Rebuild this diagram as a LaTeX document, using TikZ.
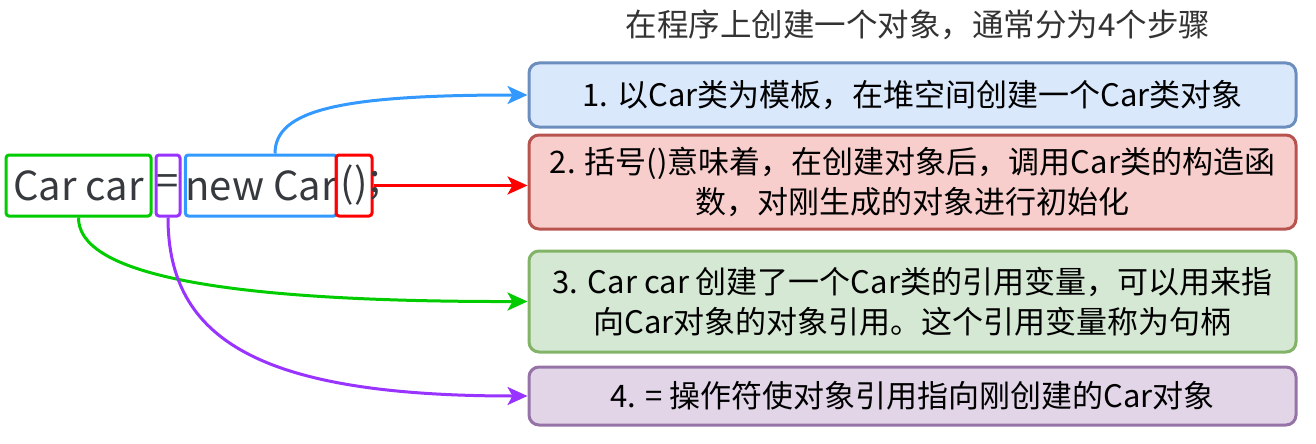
\documentclass[tikz,border=0pt]{standalone}
\usepackage{fontspec}
\setmainfont{Noto Sans CJK SC}
\usepackage{tikz}
\usetikzlibrary{arrows.meta, positioning, calc}
\usepackage{xcolor}

\definecolor{codegray}{HTML}{36393D}
\definecolor{titlegray}{HTML}{333333}
\definecolor{cgreen}{HTML}{00CC00}
\definecolor{cpurple}{HTML}{9933FF}
\definecolor{cblue}{HTML}{3399FF}
\definecolor{cred}{HTML}{FF0000}
\definecolor{bluefill}{HTML}{DAE8FC}
\definecolor{bluedraw}{HTML}{6C8EBF}
\definecolor{redfill}{HTML}{F8CECC}
\definecolor{reddraw}{HTML}{B85450}
\definecolor{greenfill}{HTML}{D5E8D4}
\definecolor{greendraw}{HTML}{82B366}
\definecolor{purplefill}{HTML}{E1D5E7}
\definecolor{purpledraw}{HTML}{9673A6}

\tikzset{
  codebox/.style={draw, line width=3pt, rounded corners=3pt, inner sep=0pt,
    minimum height=61pt, text=codegray, font=\fontsize{40}{44}\selectfont},
  stepbox/.style={draw, line width=3pt, rounded corners=10pt, inner sep=0pt,
    minimum width=767pt, align=center, font=\fontsize{31}{40}\selectfont},
  link/.style={line width=3pt, -{Stealth[length=20pt, width=18pt, inset=5pt]}}
}

\begin{document}
\begin{tikzpicture}[x=1pt, y=-1pt]
  \useasboundingbox (0,0) rectangle (1316,444);
  \node[titlegray, font=\fontsize{31.5}{36}\selectfont] (title) at (918,25) {在程序上创建一个对象，通常分为4个步骤};

  \node[codebox, draw=cgreen, minimum width=145pt] (decl) at (78.5,185.5) {Car car};
  \node[codebox, draw=cpurple, minimum width=24pt] (eq) at (168,185.5) {=};
  \node[codebox, draw=cblue, minimum width=150pt] (newcar) at (261,185.5) {new Car};
  \node[codebox, draw=cred, minimum width=36pt] (paren) at (354,185.5) {()};
  \node[text=codegray, font=\fontsize{40}{44}\selectfont, inner sep=0pt, anchor=west] (semi) at (369,185.5) {;};

  \node[stepbox, draw=bluedraw, fill=bluefill, minimum height=64pt] (step1) at (912.5,95) {1. 以Car类为模板，在堆空间创建一个Car类对象};
  \node[stepbox, draw=reddraw, fill=redfill, minimum height=94pt] (step2) at (912.5,182) {2. 括号()意味着，在创建对象后，调用Car类的构造函\\数，对刚生成的对象进行初始化};
  \node[stepbox, draw=greendraw, fill=greenfill, minimum height=101pt] (step3) at (912.5,301.5) {3. Car car 创建了一个Car类的引用变量，可以用来指\\向Car对象的对象引用。这个引用变量称为句柄};
  \node[stepbox, draw=purpledraw, fill=purplefill, minimum height=58pt] (step4) at (912.5,396) {4. = 操作符使对象引用指向刚创建的Car对象};

  \draw[link, cblue] ([xshift=14pt]newcar.north) .. controls (275,110) and (340,95) .. (step1.west);
  \draw[link, cred] (paren.east) -- (paren.east -| step2.west);
  \draw[link, cgreen] (decl.south) .. controls (78,270) and (200,302) .. (step3.west);
  \draw[link, cpurple] (eq.south) .. controls (168,340) and (260,396) .. (step4.west);
\end{tikzpicture}
\end{document}
